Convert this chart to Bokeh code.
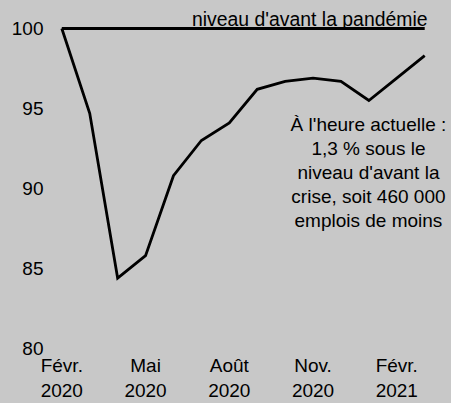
from bokeh.plotting import figure
from bokeh.models import Range1d, FixedTicker
from bokeh.core.properties import value
from bokeh.embed import file_html
from bokeh.resources import INLINE

months = ["2020-02", "2020-03", "2020-04", "2020-05", "2020-06", "2020-07", "2020-08",
          "2020-09", "2020-10", "2020-11", "2020-12", "2021-01", "2021-02", "2021-03"]
emploi = [100, 94.7, 84.4, 85.8, 90.8, 93.0, 94.1, 96.2, 96.7, 96.9, 96.7, 95.5, 96.9, 98.3]
avant_pandemie = [100] * len(months)
x_tick_pos = [0, 3, 6, 9, 12]
x_tick_labels = ["Févr.\n2020", "Mai\n2020", "Août\n2020", "Nov.\n2020", "Févr.\n2021"]
y_ticks = [80, 85, 90, 95, 100]

BG = "#c8c8c8"
FONT = "Liberation Sans"
FS = "19px"
x = list(range(len(months)))

p = figure(width=451, height=403, output_backend="svg", toolbar_location=None,
           x_range=Range1d(-0.405, 13.96), y_range=Range1d(80, 101.75),
           min_border_left=50, min_border_right=0, min_border_top=0, min_border_bottom=55)
p.background_fill_color = BG
p.border_fill_color = BG
p.outline_line_color = None
p.grid.visible = False

p.line(x, avant_pandemie, line_color="black", line_width=2.8)
p.line(x, emploi, line_color="black", line_width=2.8, line_join="miter")

p.text(x=[13.1], y=[100.6], text=["niveau d'avant la pandémie"],
       text_align="right", text_baseline="alphabetic",
       text_font=value(FONT), text_font_size="19.4px", text_color="black")
p.text(x=[10.985], y=[91.0],
       text=["À l'heure actuelle :\n1,3 % sous le\nniveau d'avant la\ncrise, soit 460 000\nemplois de moins"],
       text_align="center", text_baseline="middle", text_line_height=1.15,
       text_font=value(FONT), text_font_size=FS, text_color="black")

for ax in (p.xaxis[0], p.yaxis[0]):
    ax.axis_line_color = None
    ax.major_tick_line_color = None
    ax.minor_tick_line_color = None
    ax.major_tick_out = 0
    ax.major_tick_in = 0
    ax.major_label_text_font = FONT
    ax.major_label_text_font_size = FS
    ax.major_label_text_color = "black"

p.yaxis[0].ticker = FixedTicker(ticks=y_ticks)
p.yaxis[0].major_label_standoff = 7
p.xaxis[0].ticker = FixedTicker(ticks=x_tick_pos)
p.xaxis[0].major_label_overrides = {t: l for t, l in zip(x_tick_pos, x_tick_labels)}
p.xaxis[0].major_label_text_line_height = 1.2
p.xaxis[0].major_label_standoff = 6

html = file_html(p, INLINE)
html = html.replace("</head>", "<style>html,body{background:%s;}</style></head>" % BG, 1)
open("out.html", "w").write(html)
